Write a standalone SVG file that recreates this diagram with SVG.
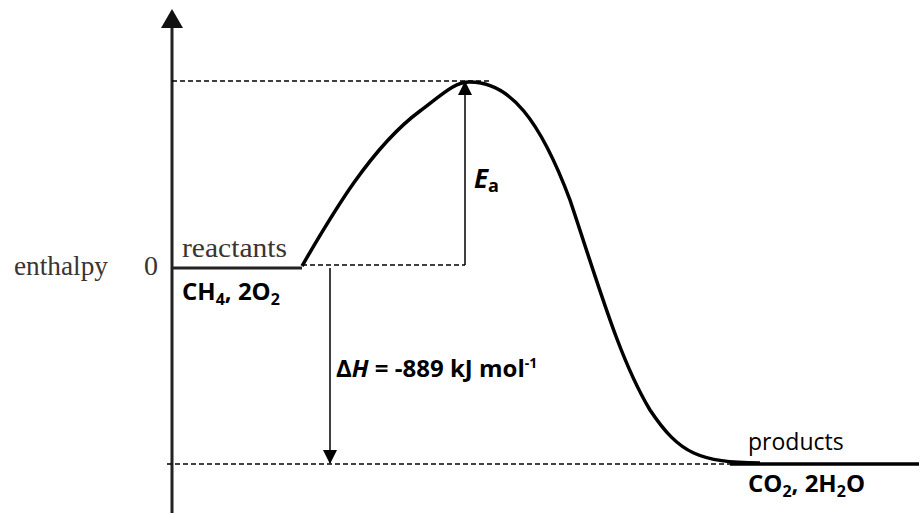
<svg xmlns="http://www.w3.org/2000/svg" width="919" height="513" viewBox="0 0 919 513">
<defs>
<style>
.dash{stroke:#000;stroke-width:1.3;stroke-dasharray:5,3;fill:none}
.serif{font-family:"Liberation Serif",serif;font-size:28px;fill:#3a3530}
.b{font-family:"Open Sans","Liberation Sans",sans-serif;font-weight:bold;font-size:24px;fill:#000}
.s{font-family:"Open Sans","Liberation Sans",sans-serif;font-size:23px;fill:#000}
</style>
<marker id="ah" markerWidth="14" markerHeight="16" refX="13" refY="7" orient="auto" markerUnits="userSpaceOnUse">
<path d="M0,0 L14,7 L0,14 Z" fill="#000"/>
</marker>
</defs>
<rect width="919" height="513" fill="#fff"/>
<g id="axis">
<line x1="172" y1="513" x2="172" y2="26" stroke="#222" stroke-width="3"/>
<path d="M172,9 L183,28 L161,28 Z" fill="#111"/>
</g>
<g id="connectors">
<line class="dash" x1="172" y1="81" x2="490" y2="81"/>
<line class="dash" x1="302" y1="265" x2="465" y2="265"/>
<line class="dash" x1="167" y1="464" x2="735" y2="464"/>
<line x1="465" y1="265" x2="465" y2="82" stroke="#000" stroke-width="1.5" marker-end="url(#ah)"/>
<line x1="330" y1="268" x2="330" y2="463" stroke="#000" stroke-width="1.5" marker-end="url(#ah)"/>
<path d="M302,266 C330,218 370,148 420,111 C445,92 455,82 470,82 C510,82 540,120 570,200 C600,290 620,360 650,410 C680,455 700,462 760,463" fill="none" stroke="#000" stroke-width="3.5"/>
</g>
<g id="reactants">
<line x1="172" y1="268" x2="302" y2="268" stroke="#222" stroke-width="3"/>
<text class="serif" x="14" y="275" textLength="94" lengthAdjust="spacingAndGlyphs">enthalpy</text>
<text class="serif" x="144" y="275">0</text>
<text class="serif" x="182" y="257" textLength="105" lengthAdjust="spacingAndGlyphs">reactants</text>
<text class="b" x="182" y="300">CH<tspan font-size="16" dy="5">4</tspan><tspan dy="-5">, 2O</tspan><tspan font-size="16" dy="5">2</tspan></text>
</g>
<g id="products">
<line x1="730" y1="464" x2="919" y2="464" stroke="#000" stroke-width="3.5"/>
<text class="s" x="748" y="450">products</text>
<text class="b" x="748" y="492">CO<tspan font-size="16" dy="5">2</tspan><tspan dy="-5">, 2H</tspan><tspan font-size="16" dy="5">2</tspan><tspan dy="-5">O</tspan></text>
</g>
<g id="labels">
<text class="b" x="474" y="188"><tspan font-style="italic" font-size="26">E</tspan><tspan font-size="18" dy="4">a</tspan></text>
<text class="b" x="336" y="377" font-size="23">Δ<tspan font-style="italic">H</tspan> = -889 kJ mol<tspan font-size="14" dy="-9">-1</tspan></text>
</g>
</svg>
